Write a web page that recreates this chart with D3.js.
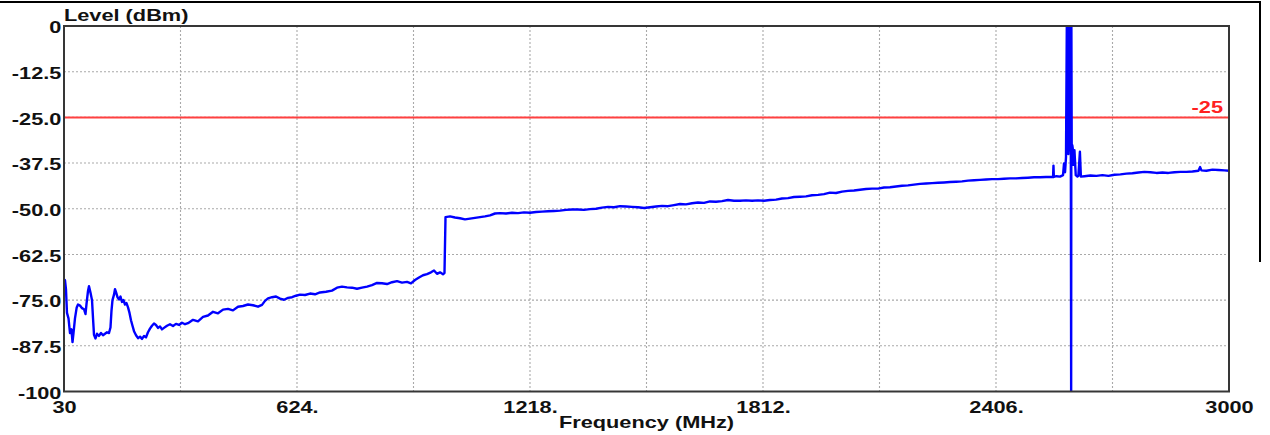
<!DOCTYPE html>
<html>
<head>
<meta charset="utf-8">
<script src="https://cdn.jsdelivr.net/npm/d3@7"></script>
<style>
  html, body { margin: 0; padding: 0; background: #fff; }
  svg { display: block; }
</style>
</head>
<body>
<svg id="chart" width="1270" height="435"></svg>
<script>
// Spectrum sweep, 30 MHz - 3 GHz, level in dBm

// Low band: 30 - 1000 MHz
const lowBandFreq = [
  30, 32.5, 35, 37.6, 41.5, 45.3, 49, 51.7, 54.2, 58,
  62.4, 65.7, 70.8, 75.9, 81, 84.8, 87.4, 91.2, 93.7, 97.6,
  101.4, 104, 106.5, 110.3, 114.1, 119.2, 124.3, 129.4, 134.5, 139.6,
  144.7, 148.5, 151, 153.6, 157.5, 160, 162.6, 166.4, 170.2, 174,
  177.9, 181.7, 185.5, 189.3, 193.2, 197, 200.8, 204.6, 208.5, 213.6,
  218.7, 223.8, 228.9, 234, 239.1, 244.1, 249.2, 254.3, 259.4, 264.5,
  269.6, 274.7, 279.8, 284.9, 292.6, 300.2, 307.9, 315.5, 323.2, 330.8,
  338.5, 346.1, 358.9, 371.6, 384.4, 397.1, 409.9, 422.6, 435.4, 448.1,
  460.8, 473.6, 486.3, 499.1, 511.8, 524.6, 534.8, 542.4, 550.1, 560.3,
  570.5, 580.7, 590.9, 601.1, 611.3, 621.5, 631.7, 644.4, 657.2, 669.9,
  682.6, 697.9, 713.2, 726, 738.7, 751.5, 764.2, 777, 789.7, 802.5,
  815.2, 828, 840.7, 853.5, 866.2, 879, 891.7, 904.5, 914.6, 924.8,
  935, 945.2, 955.4, 965.6, 973.3, 980.9, 988.6, 996.2, 1000
];
const lowBandLevel = [
  -70.0, -69.5, -72.0, -78.5, -80.0, -84.0, -83.0, -86.5, -84.0, -80.0,
  -77.0, -76.2, -76.5, -77.2, -77.5, -78.8, -76.0, -72.5, -71.2, -73.0,
  -75.0, -80.0, -84.5, -85.5, -84.2, -84.8, -84.0, -84.6, -84.2, -83.8,
  -84.0, -82.5, -78.0, -75.0, -73.5, -72.0, -72.8, -74.2, -74.8, -74.0,
  -75.5, -75.0, -76.2, -75.8, -77.0, -78.5, -80.5, -82.0, -83.5, -84.6,
  -85.4, -85.0, -85.6, -84.8, -85.2, -83.8, -82.8, -82.0, -81.4, -81.8,
  -82.6, -82.2, -83.0, -82.6, -82.0, -81.6, -82.1, -81.5, -81.8, -81.2,
  -81.6, -81.3, -80.4, -80.8, -79.6, -79.2, -78.2, -78.6, -77.6, -77.4,
  -77.8, -76.8, -76.6, -76.2, -76.4, -76.8, -76.3, -75.2, -74.5, -74.2,
  -74.0, -74.6, -74.9, -74.4, -74.2, -73.8, -73.5, -73.6, -73.2, -73.4,
  -72.9, -72.7, -72.4, -71.6, -71.3, -71.5, -71.6, -71.9, -71.6, -71.3,
  -70.9, -70.3, -70.4, -70.6, -70.1, -69.8, -70.2, -70.0, -70.4, -69.5,
  -68.8, -68.2, -67.9, -67.4, -66.9, -67.8, -67.4, -67.9, -67.6
];

// Mid band: 1 GHz - 2.55 GHz
const midBandFreq = [
  1002.6, 1014.1, 1026.8, 1039.6, 1052.3, 1065.1, 1077.8, 1090.6, 1103.3, 1116.1,
  1128.8, 1141.5, 1156.8, 1172.1, 1187.4, 1202.7, 1218, 1233.3, 1248.6, 1263.9,
  1279.2, 1294.5, 1309.8, 1325.1, 1340.4, 1355.7, 1371, 1386.3, 1401.6, 1416.9,
  1432.2, 1447.5, 1462.8, 1478.1, 1493.4, 1508.7, 1524, 1539.2, 1554.5, 1569.8,
  1585.1, 1600.4, 1615.7, 1631, 1646.3, 1661.6, 1676.9, 1692.2, 1707.5, 1722.8,
  1738.1, 1753.4, 1768.7, 1784, 1799.3, 1814.6, 1829.9, 1845.2, 1860.5, 1875.8,
  1891.1, 1906.4, 1921.7, 1937, 1952.3, 1967.5, 1982.8, 1998.1, 2013.4, 2028.7,
  2044, 2059.3, 2074.6, 2089.9, 2105.2, 2120.5, 2135.8, 2151.1, 2166.4, 2181.7,
  2197, 2212.3, 2227.6, 2242.9, 2258.2, 2273.5, 2288.8, 2304.1, 2319.4, 2334.7,
  2350, 2365.3, 2380.6, 2395.8, 2411.1, 2426.4, 2441.7, 2457, 2472.3, 2487.6,
  2502.9, 2518.2, 2533.5, 2548.8, 2551.5
];
const midBandLevel = [
  -52.3, -52.1, -52.4, -52.6, -52.9, -52.7, -52.5, -52.3, -52.1, -51.8,
  -51.3, -51.2, -51.3, -51.1, -51.2, -51.0, -51.1, -50.9, -50.8, -50.7,
  -50.6, -50.5, -50.3, -50.2, -50.2, -50.3, -50.1, -50.0, -49.7, -49.5,
  -49.6, -49.3, -49.4, -49.5, -49.6, -49.8, -49.6, -49.4, -49.2, -49.3,
  -49.0, -48.7, -48.8, -48.5, -48.3, -48.4, -48.0, -48.1, -47.9, -47.6,
  -47.8, -47.8, -47.7, -47.8, -47.7, -47.8, -47.6, -47.5, -47.2, -47.1,
  -46.8, -46.7, -46.6, -46.3, -46.2, -46.0, -45.6, -45.7, -45.3, -45.1,
  -45.0, -44.8, -44.6, -44.5, -44.5, -44.2, -44.1, -43.9, -43.7, -43.6,
  -43.4, -43.2, -43.1, -43.0, -42.9, -42.8, -42.7, -42.6, -42.5, -42.3,
  -42.2, -42.1, -42.0, -41.9, -41.9, -41.8, -41.7, -41.7, -41.6, -41.5,
  -41.4, -41.4, -41.3, -41.3, -41.3
];

// Carrier region around 2.59 GHz
const carrierFreq = [
  2552.5, 2553.5, 2560, 2569.2, 2576.9, 2579.4, 2582, 2584.5, 2586.5, 2587.2,
  2588, 2588.8, 2589.6, 2590.4, 2591.2, 2592, 2592.8, 2593.6, 2594.4, 2595.2,
  2596, 2596.8, 2597.6, 2598.2, 2599, 2600.5, 2601.7, 2603, 2606, 2609.3,
  2613.6, 2616, 2619.9, 2622.4
];
const carrierLevel = [
  -38.2, -41.3, -41.1, -41.2, -40.8, -37.6, -40.0, -35.8, 0, -34,
  0, -33, 0, -35, 0, -33, 0, -34, 0, -32,
  0, -36, -100, 0, -32.6, -32.6, -33.5, -38, -34, -40.8,
  -41.2, -41.0, -34.4, -41.2
];

// High band: 2.63 - 3 GHz
const highBandFreq = [
  2631.4, 2646.7, 2662, 2677.3, 2692.6, 2707.9, 2723.2, 2738.5, 2753.8, 2769.1,
  2784.4, 2799.7, 2815, 2830.3, 2845.6, 2860.9, 2876.2, 2891.5, 2906.8, 2922.1,
  2926.4, 2929.7, 2942.5, 2957.8, 2973, 2988.3, 3000
];
const highBandLevel = [
  -41.1, -40.9, -41.0, -40.8, -41.0, -40.7, -40.6, -40.4, -40.3, -40.1,
  -39.9, -40.0, -40.2, -40.1, -40.2, -40.0, -39.9, -39.9, -39.8, -39.6,
  -38.6, -39.5, -39.6, -39.3, -39.4, -39.5, -39.6
];

// Limit line
const limitDbm = -25;
const limitLabel = "-25";

// Axes
const xTicks = [30, 624, 1218, 1812, 2406, 3000];
const xTickLabels = ["30", "624.", "1218.", "1812.", "2406.", "3000"];
const xGridLines = [30, 327, 624, 921, 1218, 1515, 1812, 2109, 2406, 2703, 3000];
const yTicks = [-100, -87.5, -75, -62.5, -50, -37.5, -25, -12.5, 0];
const yTickLabels = ["-100", "-87.5", "-75.0", "-62.5", "-50.0", "-37.5", "-25.0", "-12.5", "0"];
const xTitle = "Frequency (MHz)";
const yTitle = "Level (dBm)";

// ---------------------------------------------------------------
const plot = { left: 64, right: 1229, top: 26, bottom: 391.5 };
const FONT = "'Liberation Sans', Arial, Helvetica, sans-serif";
const STRETCH = 1.36;   // wide lettering of the analyser's display font

const svg = d3.select("#chart");
svg.append("rect").attr("width", 1270).attr("height", 435).attr("fill", "#fff");

const x = d3.scaleLinear().domain([30, 3000]).range([plot.left, plot.right]);
const y = d3.scaleLinear().domain([-100, 0]).range([plot.bottom, plot.top]);

const sweep = [];
[[lowBandFreq, lowBandLevel], [midBandFreq, midBandLevel],
 [carrierFreq, carrierLevel], [highBandFreq, highBandLevel]].forEach(([fs, ls]) => {
  fs.forEach((f, i) => sweep.push({ f, v: ls[i] }));
});

// window border
svg.append("line").attr("x1", 0).attr("x2", 1261).attr("y1", 2).attr("y2", 2)
  .attr("stroke", "#000").attr("stroke-width", 2);
svg.append("line").attr("x1", 1260).attr("x2", 1260).attr("y1", 1).attr("y2", 262)
  .attr("stroke", "#000").attr("stroke-width", 2);

// grid
const grid = svg.append("g").attr("stroke", "#a9a9a9").attr("stroke-width", 1.1)
  .attr("stroke-dasharray", "2,2");
grid.selectAll("line.v").data(xGridLines).join("line").attr("class", "v")
  .attr("x1", d => x(d)).attr("x2", d => x(d))
  .attr("y1", plot.top).attr("y2", plot.bottom);
grid.selectAll("line.h").data(yTicks).join("line").attr("class", "h")
  .attr("x1", plot.left).attr("x2", plot.right)
  .attr("y1", d => y(d)).attr("y2", d => y(d));

// limit line
svg.append("line")
  .attr("x1", plot.left).attr("x2", plot.right)
  .attr("y1", y(limitDbm)).attr("y2", y(limitDbm))
  .attr("stroke", "#ff4040").attr("stroke-width", 2);

// trace
svg.append("clipPath").attr("id", "plotClip").append("rect")
  .attr("x", plot.left).attr("y", plot.top)
  .attr("width", plot.right - plot.left).attr("height", plot.bottom - plot.top);

const line = d3.line().x(d => x(d.f)).y(d => y(d.v));
svg.append("path")
  .datum(sweep)
  .attr("clip-path", "url(#plotClip)")
  .attr("d", line)
  .attr("fill", "none")
  .attr("stroke", "#0000ff")
  .attr("stroke-width", 2.4)
  .attr("stroke-linejoin", "round");

// frame
svg.append("rect")
  .attr("x", plot.left).attr("y", plot.top)
  .attr("width", plot.right - plot.left).attr("height", plot.bottom - plot.top)
  .attr("fill", "none").attr("stroke", "#363636").attr("stroke-width", 2);

// axes (labels only; grid drawn above)
const xAxis = d3.axisBottom(x).tickValues(xTicks)
  .tickFormat((d, i) => xTickLabels[i]).tickSize(0).tickPadding(10.2);
const gx = svg.append("g").attr("transform", `translate(0,${plot.bottom})`).call(xAxis);
gx.select(".domain").remove();
gx.selectAll("text")
  .attr("transform", `scale(${STRETCH},1)`)
  .attr("font-family", FONT).attr("font-size", 16).attr("font-weight", "bold")
  .attr("fill", "#111");

const yAxis = d3.axisLeft(y).tickValues(yTicks)
  .tickFormat((d, i) => yTickLabels[i]).tickSize(0).tickPadding(1.9);
const gy = svg.append("g").attr("transform", `translate(${plot.left},0)`).call(yAxis);
gy.select(".domain").remove();
gy.selectAll("text")
  .attr("dy", "0.42em")
  .attr("transform", `scale(${STRETCH},1)`)
  .attr("font-family", FONT).attr("font-size", 16).attr("font-weight", "bold")
  .attr("fill", "#111");

function label(px, py, str, anchor, color) {
  svg.append("text")
    .attr("transform", `translate(${px},${py}) scale(${STRETCH},1)`)
    .attr("text-anchor", anchor)
    .attr("font-family", FONT).attr("font-size", 16).attr("font-weight", "bold")
    .attr("fill", color)
    .text(str);
}

label(plot.left, 21, yTitle, "start", "#111");
label((plot.left + plot.right) / 2, 428, xTitle, "middle", "#111");
label(1223, 113.3, limitLabel, "end", "#ff2020");
</script>
</body>
</html>
